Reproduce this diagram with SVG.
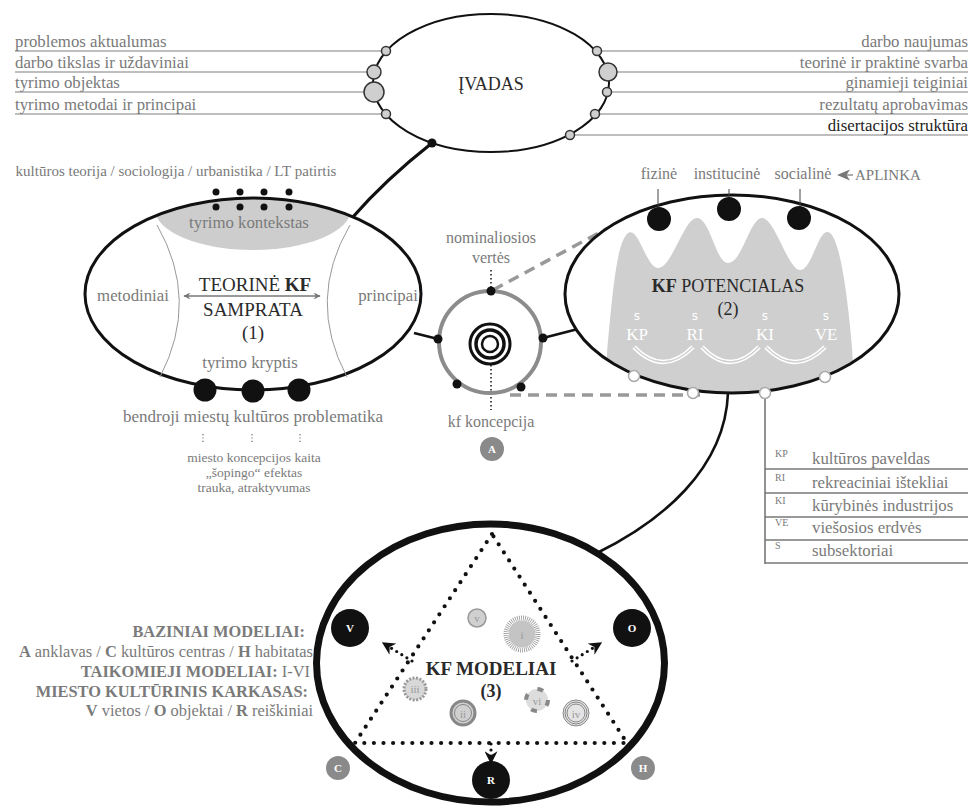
<svg xmlns="http://www.w3.org/2000/svg" width="971" height="806" viewBox="0 0 971 806">
<style>
text{font-family:"Liberation Serif","Times New Roman",serif;}
.g{fill:#7a7a7a;}
.d{fill:#2a2a2a;}
.t17{font-size:16.8px;}
.t16{font-size:16px;}
.gl{stroke:#a8a8a8;stroke-width:1.6;fill:none;}
.sm{fill:#cfcfcf;stroke:#333;stroke-width:1.5;}
.bd{fill:#111;}
.wc{fill:#fff;stroke:#aaa;stroke-width:1.5;}
.dots{fill:none;stroke:#111;stroke-width:4.2;stroke-linecap:round;stroke-dasharray:0 9.6;}
.sdots{fill:none;stroke:#111;stroke-width:3.2;stroke-linecap:round;stroke-dasharray:0 6;}
.ws{font-family:"DejaVu Sans",sans-serif;font-size:12px;fill:#fff;}
.wl{font-size:17px;fill:#fff;}
.ml{font-size:11px;fill:#999;}
.bl{font-size:11px;font-weight:bold;fill:#fff;}
</style>
<defs>
<marker id="ag" viewBox="0 0 10 10" refX="9" refY="5" markerWidth="7" markerHeight="7" orient="auto-start-reverse" markerUnits="userSpaceOnUse">
<path d="M0,0 L10,5 L0,10 L3,5 Z" fill="#777"/>
</marker>
<marker id="ab" viewBox="0 0 10 10" refX="9" refY="5" markerWidth="13" markerHeight="13" orient="auto" markerUnits="userSpaceOnUse">
<path d="M0,0 L10,5 L0,10 L3,5 Z" fill="#111"/>
</marker>
<clipPath id="clipL"><ellipse cx="253" cy="294" rx="168" ry="96"/></clipPath>
<clipPath id="clipR"><ellipse cx="732" cy="294" rx="167" ry="99"/></clipPath>
</defs>

<!-- connectors -->
<g id="connectors">
<g class="gl">
<line x1="15" y1="51" x2="386" y2="51"/>
<line x1="15" y1="72" x2="374" y2="72"/>
<line x1="15" y1="92" x2="374" y2="92"/>
<line x1="15" y1="114" x2="386" y2="114"/>
<line x1="597" y1="51" x2="968" y2="51"/>
<line x1="608" y1="72" x2="968" y2="72"/>
<line x1="607" y1="92" x2="968" y2="92"/>
<line x1="595" y1="114" x2="968" y2="114"/>
<line x1="570" y1="135" x2="968" y2="135"/>
</g>
<path d="M432,143 Q385,180 352,218" fill="none" stroke="#111" stroke-width="3.2"/>
<line x1="414" y1="333" x2="438" y2="339" stroke="#111" stroke-width="2.6"/>
<line x1="543" y1="338" x2="578" y2="329" stroke="#111" stroke-width="2.6"/>
<line x1="493" y1="290" x2="608" y2="228" stroke="#999" stroke-width="3.5" stroke-dasharray="11 7"/>
<line x1="510" y1="395" x2="700" y2="395" stroke="#999" stroke-width="3.5" stroke-dasharray="11 7"/>
<path d="M728,393 C725,470 660,522 597,553" fill="none" stroke="#111" stroke-width="2.6"/>
<g stroke="#777" stroke-width="1.6" fill="none">
<line x1="765" y1="393" x2="765" y2="564"/>
<line x1="765" y1="469" x2="968" y2="469"/>
<line x1="765" y1="493" x2="968" y2="493"/>
<line x1="765" y1="517" x2="968" y2="517"/>
<line x1="765" y1="540" x2="968" y2="540"/>
<line x1="765" y1="563" x2="968" y2="563"/>
</g>
</g>

<!-- IVADAS -->
<g id="ivadas">
<ellipse cx="491" cy="83" rx="118" ry="69" fill="#fff" stroke="#111" stroke-width="2"/>
<text x="491" y="90" text-anchor="middle" class="d" font-size="18">ĮVADAS</text>
<circle cx="386" cy="51" r="4.5" class="sm"/>
<circle cx="374" cy="72" r="7" class="sm"/>
<circle cx="374" cy="92" r="10" class="sm"/>
<circle cx="386" cy="114" r="4.5" class="sm"/>
<circle cx="597" cy="51" r="4.5" class="sm"/>
<circle cx="608" cy="72" r="9" class="sm"/>
<circle cx="607" cy="92" r="4.5" class="sm"/>
<circle cx="595" cy="114" r="4.5" class="sm"/>
<circle cx="570" cy="135" r="4.5" class="sm"/>
<circle cx="432" cy="143" r="4.5" class="bd"/>
<g class="g t17">
<text x="15" y="47">problemos aktualumas</text>
<text x="15" y="68">darbo tikslas ir uždaviniai</text>
<text x="15" y="88">tyrimo objektas</text>
<text x="15" y="110">tyrimo metodai ir principai</text>
</g>
<g class="t17" text-anchor="end">
<text x="968" y="47" class="g">darbo naujumas</text>
<text x="968" y="68" class="g">teorinė ir praktinė svarba</text>
<text x="968" y="88" class="g">ginamieji teiginiai</text>
<text x="968" y="110" class="g">rezultatų aprobavimas</text>
<text x="968" y="131" fill="#222">disertacijos struktūra</text>
</g>
</g>

<!-- node 1 -->
<g id="node-samprata">
<ellipse cx="253" cy="294" rx="168" ry="96" fill="#fff"/>
<ellipse cx="253" cy="209" rx="98" ry="41" fill="#cdcdcd" clip-path="url(#clipL)"/>
<ellipse cx="253" cy="294" rx="168" ry="96" fill="none" stroke="#111" stroke-width="3"/>
<path d="M157,225 Q200,300 160,377" fill="none" stroke="#999" stroke-width="1"/>
<path d="M350,225 Q306,300 347,377" fill="none" stroke="#999" stroke-width="1"/>
<g class="bd">
<circle cx="216" cy="192" r="3.5"/><circle cx="240" cy="192" r="3.5"/><circle cx="264" cy="192" r="3.5"/><circle cx="289" cy="192" r="3.5"/>
<circle cx="216" cy="207" r="3.5"/><circle cx="240" cy="207" r="3.5"/><circle cx="264" cy="207" r="3.5"/><circle cx="289" cy="207" r="3.5"/>
<circle cx="205" cy="390" r="11.5"/><circle cx="253" cy="391" r="11.5"/><circle cx="299" cy="390" r="11.5"/>
</g>
<text x="176" y="176" text-anchor="middle" class="g" font-size="15">kultūros teorija / sociologija / urbanistika / LT patirtis</text>
<text x="249" y="228" text-anchor="middle" class="g t17">tyrimo kontekstas</text>
<text x="255" y="291" text-anchor="middle" class="d" font-size="19">TEORINĖ <tspan font-weight="bold">KF</tspan></text>
<line x1="184" y1="296" x2="320" y2="296" stroke="#777" stroke-width="1.3" marker-start="url(#ag)" marker-end="url(#ag)"/>
<text x="253" y="316" text-anchor="middle" class="d" font-size="19">SAMPRATA</text>
<text x="253" y="339" text-anchor="middle" class="d" font-size="19">(1)</text>
<text x="133" y="301" text-anchor="middle" class="g t17">metodiniai</text>
<text x="388" y="301" text-anchor="middle" class="g t17">principai</text>
<text x="250" y="368" text-anchor="middle" class="g t17">tyrimo kryptis</text>
<text x="253" y="422" text-anchor="middle" class="g" font-size="17">bendroji miestų kultūros problematika</text>
<g fill="none" stroke="#666" stroke-width="1.2" stroke-dasharray="1.2 2.2">
<line x1="203" y1="434" x2="203" y2="443"/>
<line x1="252" y1="434" x2="252" y2="443"/>
<line x1="300" y1="434" x2="300" y2="443"/>
</g>
<g class="g" font-size="13.5" text-anchor="middle">
<text x="254" y="462">miesto koncepcijos kaita</text>
<text x="254" y="477">„šopingo“ efektas</text>
<text x="254" y="492">trauka, atraktyvumas</text>
</g>
</g>

<!-- center circle -->
<g id="node-koncepcija">
<line x1="491" y1="270" x2="491" y2="291" stroke="#111" stroke-width="1.5" stroke-dasharray="1.5 2.5"/>
<line x1="491" y1="365" x2="491" y2="410" stroke="#111" stroke-width="1.5" stroke-dasharray="1.5 2.5"/>
<circle cx="490" cy="342" r="51" fill="none" stroke="#8c8c8c" stroke-width="4"/>
<circle cx="490" cy="344" r="20" fill="none" stroke="#111" stroke-width="3"/>
<circle cx="490" cy="344" r="14" fill="none" stroke="#111" stroke-width="3.5"/>
<circle cx="490" cy="344" r="8" fill="none" stroke="#111" stroke-width="2.5"/>
<g class="bd">
<circle cx="491" cy="291" r="4.5"/>
<circle cx="438" cy="339" r="4.5"/>
<circle cx="543" cy="338" r="4.5"/>
<circle cx="457" cy="384" r="4.5"/>
<circle cx="521" cy="387" r="4.5"/>
</g>
<text x="491" y="243" text-anchor="middle" class="g t16">nominaliosios</text>
<text x="491" y="263" text-anchor="middle" class="g t16">vertės</text>
<text x="491" y="427" text-anchor="middle" class="g t16">kf koncepcija</text>
</g>

<!-- node 2 -->
<g id="node-potencialas">
<ellipse cx="732" cy="294" rx="167" ry="99" fill="#fff"/>
<path clip-path="url(#clipR)" fill="#cfcfcf" d="M607,420 L607,353 C612,300 616,245 627,234 C638,223 646,268 658,268 C672,268 684,218 697,218 C710,218 716,263 728,263 C742,263 750,218 762,218 C775,218 788,270 800,270 C812,270 818,230 828,232 C840,234 848,300 852,347 L856,420 Z"/>
<ellipse cx="732" cy="294" rx="167" ry="99" fill="none" stroke="#111" stroke-width="3"/>
<g stroke="#444" stroke-width="1">
<line x1="658" y1="189" x2="658" y2="208"/>
<line x1="729" y1="189" x2="729" y2="198"/>
<line x1="800" y1="189" x2="800" y2="207"/>
</g>
<g class="bd">
<circle cx="659" cy="219" r="12"/>
<circle cx="729" cy="209" r="12"/>
<circle cx="799" cy="218" r="12"/>
</g>
<g class="g t16" text-anchor="middle">
<text x="659" y="179">fizinė</text>
<text x="727" y="179">institucinė</text>
<text x="803" y="179">socialinė</text>
</g>
<path d="M837,175 L850,169.5 L846.5,175 L850,180.5 Z" fill="#777"/>
<line x1="846" y1="175" x2="853" y2="175" stroke="#777" stroke-width="1.2"/>
<text x="855" y="180" class="g" font-size="15">APLINKA</text>
<text x="728" y="292" text-anchor="middle" class="d" font-size="18"><tspan font-weight="bold">KF</tspan> POTENCIALAS</text>
<text x="728" y="315" text-anchor="middle" class="d" font-size="18">(2)</text>
<g text-anchor="middle">
<text x="637" y="320" class="ws">s</text>
<text x="695" y="320" class="ws">s</text>
<text x="765" y="320" class="ws">s</text>
<text x="826" y="320" class="ws">s</text>
<text x="637" y="340" class="wl">KP</text>
<text x="695" y="340" class="wl">RI</text>
<text x="765" y="340" class="wl">KI</text>
<text x="826" y="340" class="wl">VE</text>
</g>
<g fill="none">
<path d="M634,347 Q663,377 693,347 M702,347 Q730,377 759,347 M766,347 Q795,377 825,347" stroke="#fff" stroke-width="4.5"/>
<path d="M634,347 Q663,377 693,347 M702,347 Q730,377 759,347 M766,347 Q795,377 825,347" stroke="#cfcfcf" stroke-width="1.3"/>
</g>
<circle cx="634" cy="376" r="5.5" class="wc"/>
<circle cx="693" cy="393" r="5.5" class="wc"/>
<circle cx="765" cy="393" r="5.5" class="wc"/>
<circle cx="825" cy="377" r="5.5" class="wc"/>
</g>

<!-- legend -->
<g id="legend">
<g class="g" font-size="10">
<text x="775" y="457">KP</text>
<text x="775" y="481">RI</text>
<text x="775" y="504">KI</text>
<text x="775" y="526">VE</text>
<text x="775" y="549">S</text>
</g>
<g class="g t17">
<text x="812" y="464">kultūros paveldas</text>
<text x="812" y="488">rekreaciniai ištekliai</text>
<text x="812" y="511">kūrybinės industrijos</text>
<text x="812" y="533">viešosios erdvės</text>
<text x="812" y="556">subsektoriai</text>
</g>
</g>

<!-- node 3 -->
<g id="node-modeliai">
<ellipse cx="490.5" cy="663" rx="174" ry="139" fill="#fff" stroke="#111" stroke-width="7"/>
<path class="dots" d="M492,534 L355,743 L627,743 Z"/>
<line class="sdots" x1="412" y1="661" x2="383" y2="643" marker-end="url(#ab)"/>
<line class="sdots" x1="572" y1="661" x2="601" y2="643" marker-end="url(#ab)"/>
<line class="sdots" x1="491" y1="744" x2="491" y2="763" marker-end="url(#ab)"/>
<circle cx="492" cy="449" r="12" fill="#8a8a8a"/>
<text x="492" y="453" text-anchor="middle" class="bl">A</text>
<circle cx="338" cy="768" r="12" fill="#8a8a8a"/>
<text x="338" y="772" text-anchor="middle" class="bl">C</text>
<circle cx="643" cy="768" r="12" fill="#8a8a8a"/>
<text x="643" y="772" text-anchor="middle" class="bl">H</text>
<circle cx="350" cy="628" r="19" class="bd"/>
<text x="350" y="632" text-anchor="middle" class="bl" font-size="12">V</text>
<circle cx="632" cy="628" r="19" class="bd"/>
<text x="632" y="632" text-anchor="middle" class="bl" font-size="12">O</text>
<circle cx="491" cy="780" r="19" class="bd"/>
<text x="491" y="784" text-anchor="middle" class="bl" font-size="12">R</text>
<!-- model icons -->
<circle cx="477" cy="618" r="9" fill="#d0d0d0" stroke="#999" stroke-width="1.5"/>
<text x="477" y="622" text-anchor="middle" class="ml">v</text>
<circle cx="522" cy="634" r="16" fill="none" stroke="#999" stroke-width="5" stroke-dasharray="0.8 1.2"/>
<circle cx="522" cy="634" r="13.5" fill="#c4c4c4"/>
<text x="522" y="639" text-anchor="middle" class="ml" font-size="13" fill="#eee">i</text>
<circle cx="415" cy="689" r="11" fill="#d8d8d8" stroke="#999" stroke-width="3" stroke-dasharray="2 1.5"/>
<circle cx="415" cy="689" r="8" fill="#d8d8d8"/>
<text x="415" y="693" text-anchor="middle" class="ml">iii</text>
<circle cx="463" cy="713" r="12" fill="#d0d0d0" stroke="#888" stroke-width="3"/>
<circle cx="463" cy="713" r="8.5" fill="none" stroke="#888" stroke-width="1"/>
<text x="463" y="718" text-anchor="middle" class="ml" font-size="12">ii</text>
<circle cx="537" cy="700" r="11" fill="#ddd" stroke="#888" stroke-width="4" stroke-dasharray="6 11.3"/>
<text x="537" y="705" text-anchor="middle" class="ml" font-size="12">vi</text>
<circle cx="576" cy="713" r="13" fill="#e4e4e4" stroke="#888" stroke-width="1"/>
<circle cx="576" cy="713" r="11" fill="none" stroke="#888" stroke-width="1"/>
<circle cx="576" cy="713" r="9" fill="none" stroke="#888" stroke-width="1"/>
<text x="576" y="718" text-anchor="middle" class="ml" font-size="12">iv</text>
<text x="491" y="675" text-anchor="middle" class="d" font-size="19" font-weight="bold">KF MODELIAI</text>
<text x="491" y="697" text-anchor="middle" class="d" font-size="18" font-weight="bold">(3)</text>
</g>

<!-- models legend -->
<g id="models-legend" class="g" font-size="16.4" text-anchor="end">
<text x="305" y="637" font-weight="bold">BAZINIAI MODELIAI:</text>
<text x="313" y="657"><tspan font-weight="bold">A</tspan> anklavas / <tspan font-weight="bold">C</tspan> kultūros centras / <tspan font-weight="bold">H</tspan> habitatas</text>
<text x="310" y="677"><tspan font-weight="bold">TAIKOMIEJI MODELIAI:</tspan> I-VI</text>
<text x="308" y="697" font-weight="bold">MIESTO KULTŪRINIS KARKASAS:</text>
<text x="313" y="716"><tspan font-weight="bold">V</tspan> vietos / <tspan font-weight="bold">O</tspan> objektai / <tspan font-weight="bold">R</tspan> reiškiniai</text>
</g>
</svg>
